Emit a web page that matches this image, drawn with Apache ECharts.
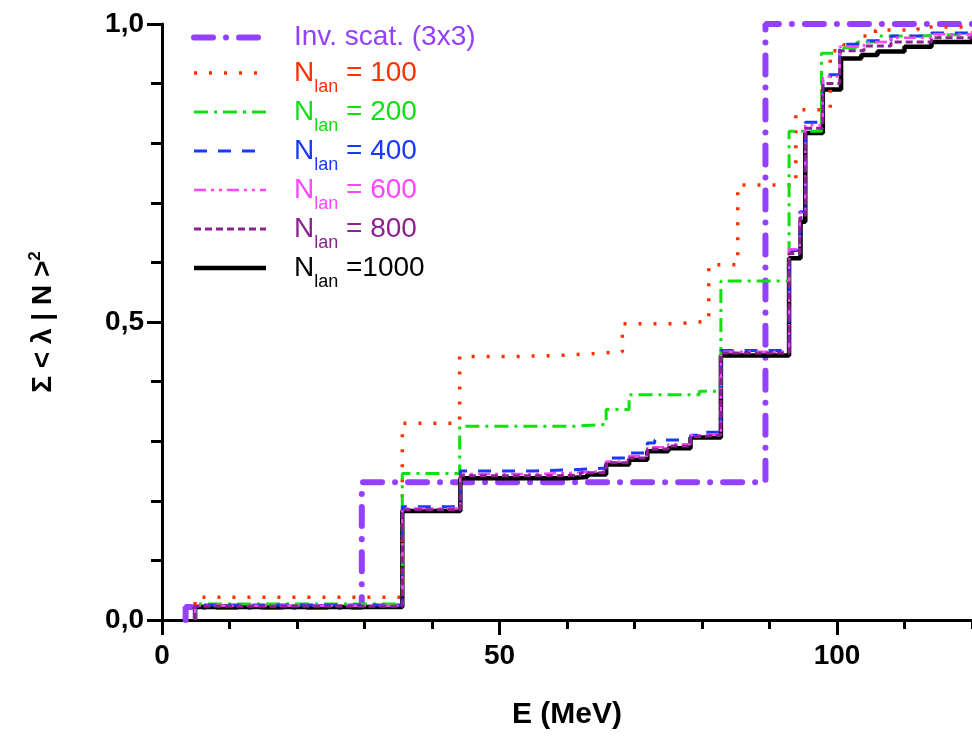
<!DOCTYPE html>
<html>
<head>
<meta charset="utf-8">
<script src="https://cdn.jsdelivr.net/npm/echarts@6/dist/echarts.min.js"></script>
<style>
  html, body { margin: 0; padding: 0; background: #ffffff; }
  #chart { width: 972px; height: 743px; }
</style>
</head>
<body>
<div id="chart"></div>
<script>
// Cumulative strength sum vs. excitation energy E (MeV): step curves [E, value]
const invScat = [[3.5, 0], [3.5, 0.022], [29.6, 0.231], [89.4, 1.0], [120, 1.0]];
const nLan100 = [[4.9, 0], [4.9, 0.038], [35.6, 0.33], [44.1, 0.442], [52, 0.444], [59, 0.447], [64, 0.45],
  [68.2, 0.497], [76, 0.5], [79.5, 0.502], [81.0, 0.596], [85.3, 0.73], [93.9, 0.856], [99.0, 0.955],
  [101, 0.965], [103, 0.98], [105.7, 0.99], [112, 0.995], [120, 0.997]];
const nLan200 = [[4.9, 0], [4.9, 0.027], [35.6, 0.246], [44.1, 0.325], [60.8, 0.328], [65.8, 0.353],
  [69.2, 0.378], [79.6, 0.384], [82.8, 0.569], [92.9, 0.82], [97.7, 0.951], [101, 0.96], [103, 0.97],
  [106, 0.98], [112, 0.983], [120, 0.985]];
const nLan400 = [[4.9, 0], [4.9, 0.025], [35.6, 0.19], [44.2, 0.25], [55, 0.252], [60.8, 0.255], [65.8, 0.272],
  [69.2, 0.28], [71.9, 0.297], [73, 0.302], [78.3, 0.31], [80, 0.315], [82.8, 0.452], [92.9, 0.62],
  [94.5, 0.685], [95.3, 0.835], [97.9, 0.915], [100.4, 0.966], [104, 0.972], [108, 0.98], [114, 0.985], [120, 0.99]];
const nLan600 = [[4.9, 0], [4.9, 0.024], [35.6, 0.187], [44.2, 0.245], [55, 0.247], [60.8, 0.25], [65.8, 0.266],
  [69.2, 0.275], [71.9, 0.29], [75, 0.295], [78.3, 0.31], [80, 0.312], [82.8, 0.45], [92.9, 0.622],
  [94.5, 0.683], [95.3, 0.83], [97.9, 0.912], [100.4, 0.962], [104, 0.97], [108, 0.977], [114, 0.983], [120, 0.988]];
const nLan800 = [[4.9, 0], [4.9, 0.023], [35.6, 0.185], [44.2, 0.242], [58, 0.243], [62, 0.247], [65.8, 0.264],
  [69.2, 0.272], [71.9, 0.287], [75, 0.292], [78.3, 0.308], [80, 0.31], [82.8, 0.448], [92.9, 0.615],
  [94.5, 0.675], [95.3, 0.825], [97.9, 0.9], [100.4, 0.955], [104, 0.963], [108, 0.97], [114, 0.977], [120, 0.982]];
const nLan1000 = [[4.9, 0], [4.9, 0.022], [35.6, 0.183], [44.2, 0.238], [60, 0.24], [63, 0.244], [65.8, 0.261],
  [69.2, 0.269], [71.9, 0.283], [75, 0.288], [78.3, 0.306], [82.8, 0.444], [92.9, 0.607], [94.6, 0.668],
  [95.3, 0.817], [97.9, 0.89], [100.6, 0.942], [103.6, 0.948], [106, 0.954], [110, 0.962], [114, 0.97], [120, 0.975]];

const seriesNames = ['Inv. scat. (3x3)', 'N100', 'N200', 'N400', 'N600', 'N800', 'N1000'];
const legendLabels = ['Inv. scat. (3x3)', 'N{s|lan} = 100', 'N{s|lan} = 200', 'N{s|lan} = 400',
  'N{s|lan} = 600', 'N{s|lan} = 800', 'N{s|lan} =1000'];
const colors = ['#9340ff', '#ff3000', '#10e010', '#1838ff', '#ff45ff', '#8c2290', '#000000'];
const xTicks = [0, 50, 100];

const FONT = '"Liberation Sans", Arial, sans-serif';

// line look per curve: width, dash pattern, cap
const lineLooks = [
  { width: 6, type: [19, 13, 0.01, 13], cap: 'round' },
  { width: 3.5, type: [3, 12], cap: 'butt' },
  { width: 3, type: [14, 6, 3, 6], cap: 'butt' },
  { width: 3, type: [13, 11], cap: 'butt' },
  { width: 2.5, type: [12, 5, 3, 5, 3, 5], cap: 'butt' },
  { width: 3, type: [7, 4], cap: 'butt' },
  { width: 4.5, type: 'solid', cap: 'butt' }
];

function stepLine(i, data, z) {
  const look = lineLooks[i];
  return {
    name: seriesNames[i], type: 'line', step: 'end', data: data, symbol: 'none', showSymbol: false,
    clip: false, z: z, silent: true,
    lineStyle: { color: colors[i], width: look.width, type: look.type, cap: look.cap },
    itemStyle: { color: colors[i] },
    emphasis: { disabled: true }
  };
}

const chart = echarts.init(document.getElementById('chart'), null, { renderer: 'canvas' });

const legendLabelOf = {};
seriesNames.forEach((n, i) => { legendLabelOf[n] = legendLabels[i]; });

chart.setOption({
  animation: false,
  backgroundColor: '#ffffff',
  grid: { left: 162, right: 0, top: 24, bottom: 123, containLabel: false },
  legend: {
    orient: 'vertical', left: 191, top: 18, padding: 0,
    itemWidth: 72, itemHeight: 14, itemGap: -7,
    selectedMode: false,
    itemStyle: { opacity: 0 },
    data: seriesNames.map((n, i) => ({
      name: n,
      lineStyle: {
        color: colors[i], width: lineLooks[i].width, type: lineLooks[i].type, cap: lineLooks[i].cap
      },
      textStyle: i === 0 ? { color: colors[i], lineHeight: 39 } : { color: colors[i] }
    })),
    formatter: n => legendLabelOf[n],
    textStyle: {
      fontFamily: FONT, fontSize: 28, lineHeight: 31, padding: [0, 0, 0, 23],
      rich: { s: { fontFamily: FONT, fontSize: 18, lineHeight: 18, padding: [28, 0, 0, 0] } }
    }
  },
  xAxis: [
    {
      type: 'value', min: 0, max: 120, interval: 10, position: 'bottom',
      axisLine: { show: true, lineStyle: { color: '#000', width: 3 } },
      axisTick: { show: true, inside: false, length: 9, lineStyle: { color: '#000', width: 3 } },
      axisLabel: { show: false },
      splitLine: { show: false }
    },
    {
      type: 'value', min: 0, max: 120, position: 'bottom',
      axisLine: { show: false },
      axisTick: { show: true, inside: false, length: 15, customValues: xTicks, lineStyle: { color: '#000', width: 3 } },
      axisLabel: {
        show: true, customValues: xTicks, margin: 22, color: '#000',
        fontFamily: FONT, fontSize: 28, fontWeight: 'bold'
      },
      splitLine: { show: false },
      name: 'E (MeV)', nameLocation: 'middle', nameGap: 80,
      nameTextStyle: { color: '#000', fontFamily: FONT, fontSize: 30, fontWeight: 'bold' }
    }
  ],
  yAxis: {
    type: 'value', min: 0, max: 1, interval: 0.5,
    axisLine: { show: true, lineStyle: { color: '#000', width: 3 } },
    axisTick: { show: true, inside: false, length: 15, lineStyle: { color: '#000', width: 3 } },
    minorTick: { show: true, splitNumber: 5, length: 11, lineStyle: { color: '#000', width: 3 } },
    axisLabel: {
      margin: 18, color: '#000', fontFamily: FONT, fontSize: 28, fontWeight: 'bold',
      formatter: v => v.toFixed(1).replace('.', ',')
    },
    splitLine: { show: false },
    name: 'Σ < λ | N >{sup|2}', nameLocation: 'middle', nameRotate: 90, nameGap: 102,
    nameTextStyle: {
      color: '#000', fontFamily: FONT, fontSize: 28, fontWeight: 'bold',
      rich: { sup: { fontFamily: FONT, fontSize: 17, fontWeight: 'bold', padding: [0, 0, 16, 0] } }
    }
  },
  series: [
    stepLine(0, invScat, 2),
    stepLine(1, nLan100, 4),
    stepLine(2, nLan200, 4),
    stepLine(3, nLan400, 4),
    stepLine(4, nLan600, 4),
    stepLine(5, nLan800, 4),
    stepLine(6, nLan1000, 3)
  ]
});
</script>
</body>
</html>
